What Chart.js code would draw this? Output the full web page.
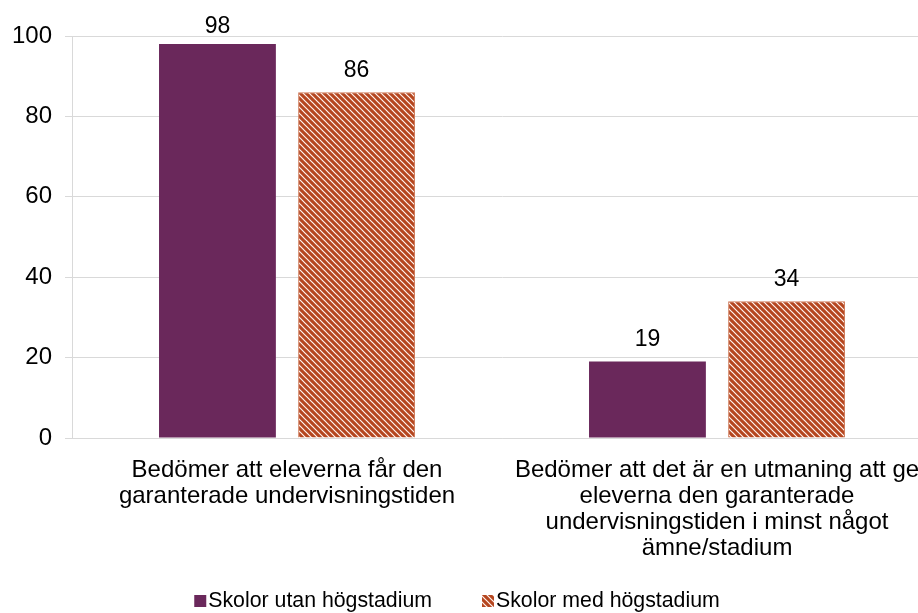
<!DOCTYPE html>
<html>
<head>
<meta charset="utf-8">
<script src="https://cdn.jsdelivr.net/npm/chart.js@4"></script>
<style>
  html, body { margin: 0; padding: 0; background: #fff; }
  #wrap { width: 918px; height: 613px; overflow: hidden; }
</style>
</head>
<body>
<div id="wrap"><canvas id="chart" width="932" height="613"></canvas></div>
<script>
const categories = [
  ["Bedömer att eleverna får den", "garanterade undervisningstiden"],
  ["Bedömer att det är en utmaning att ge", "eleverna den garanterade", "undervisningstiden i minst något", "ämne/stadium"]
];
const seriesNames = ["Skolor utan högstadium", "Skolor med högstadium"];
const utanValues = [98, 19];
const medValues = [86, 34];
const yTicks = [0, 20, 40, 60, 80, 100];

const font = "'Liberation Sans', Arial, sans-serif";

// diagonal hatch for the second series
function makeHatch() {
  const c = document.createElement("canvas");
  c.width = 6; c.height = 6;
  const g = c.getContext("2d");
  g.fillStyle = "#B5461F";
  g.fillRect(0, 0, 6, 6);
  g.strokeStyle = "#fff4f0";
  g.lineWidth = 1.2;
  g.beginPath();
  g.moveTo(-1, -1); g.lineTo(7, 7);
  g.moveTo(-1, 5); g.lineTo(1, 7);
  g.moveTo(5, -1); g.lineTo(7, 1);
  g.stroke();
  return g.createPattern(c, "repeat");
}

const valueLabels = {
  id: "valueLabels",
  afterDatasetsDraw(chart) {
    const ctx = chart.ctx;
    ctx.save();
    ctx.font = "23px " + font;
    ctx.fillStyle = "#000";
    ctx.textAlign = "center";
    ctx.textBaseline = "bottom";
    chart.data.datasets.forEach((ds, i) => {
      chart.getDatasetMeta(i).data.forEach((bar, j) => {
        // keep the label inside the top of the canvas like the original
        ctx.fillText(ds.data[j], bar.x, Math.max(bar.y - 10, 38));
      });
    });
    ctx.restore();
  }
};

// legend drawn by hand: the swatch sits right against the text
const bottomLegend = {
  id: "bottomLegend",
  afterDraw(chart) {
    const ctx = chart.ctx;
    ctx.save();
    ctx.font = "21.3px " + font;
    ctx.textBaseline = "middle";
    ctx.textAlign = "left";
    const box = 12, gap = 2, spacing = 50, cy = 601;
    const items = chart.data.datasets.map(ds => ({ text: ds.label, fill: ds.backgroundColor, w: ctx.measureText(ds.label).width }));
    let total = 0;
    items.forEach((it, i) => { total += box + gap + it.w + (i < items.length - 1 ? spacing : 0); });
    let x = 457 - total / 2;
    items.forEach(it => {
      ctx.fillStyle = it.fill;
      ctx.fillRect(x, cy - box / 2, box, box);
      ctx.fillStyle = "#000";
      ctx.fillText(it.text, x + box + gap, cy);
      x += box + gap + it.w + spacing;
    });
    ctx.restore();
  }
};

const hatch = makeHatch();

new Chart(document.getElementById("chart").getContext("2d"), {
  type: "bar",
  data: {
    labels: categories,
    datasets: [
      {
        label: seriesNames[0],
        data: utanValues,
        backgroundColor: "#6A285B",
        categoryPercentage: 0.647,
        barPercentage: 0.84
      },
      {
        label: seriesNames[1],
        data: medValues,
        backgroundColor: hatch,
        borderColor: "#CF7A5A",
        borderWidth: 1,
        categoryPercentage: 0.647,
        barPercentage: 0.84
      }
    ]
  },
  options: {
    responsive: false,
    animation: false,
    layout: { padding: { top: 36, left: 0, right: 0, bottom: 0 } },
    scales: {
      x: {
        grid: { display: false },
        border: { display: true, color: "#d9d9d9", width: 1 },
        ticks: {
          color: "#000",
          font: { family: font, size: 24, lineHeight: "26px" },
          maxRotation: 0,
          autoSkip: false,
          padding: 11
        },
        afterFit(scale) { scale.height = 175; }
      },
      y: {
        min: 0,
        max: 100,
        afterBuildTicks(scale) { scale.ticks = yTicks.map(v => ({ value: v })); },
        grid: { color: "#d9d9d9", lineWidth: 1, tickLength: 7 },
        border: { display: true, color: "#d9d9d9" },
        ticks: {
          color: "#000",
          font: { family: font, size: 24 },
          padding: 13
        },
        afterFit(scale) { scale.width = 72; }
      }
    },
    plugins: {
      legend: { display: false },
      tooltip: { enabled: false }
    }
  },
  plugins: [valueLabels, bottomLegend]
});
</script>
</body>
</html>
